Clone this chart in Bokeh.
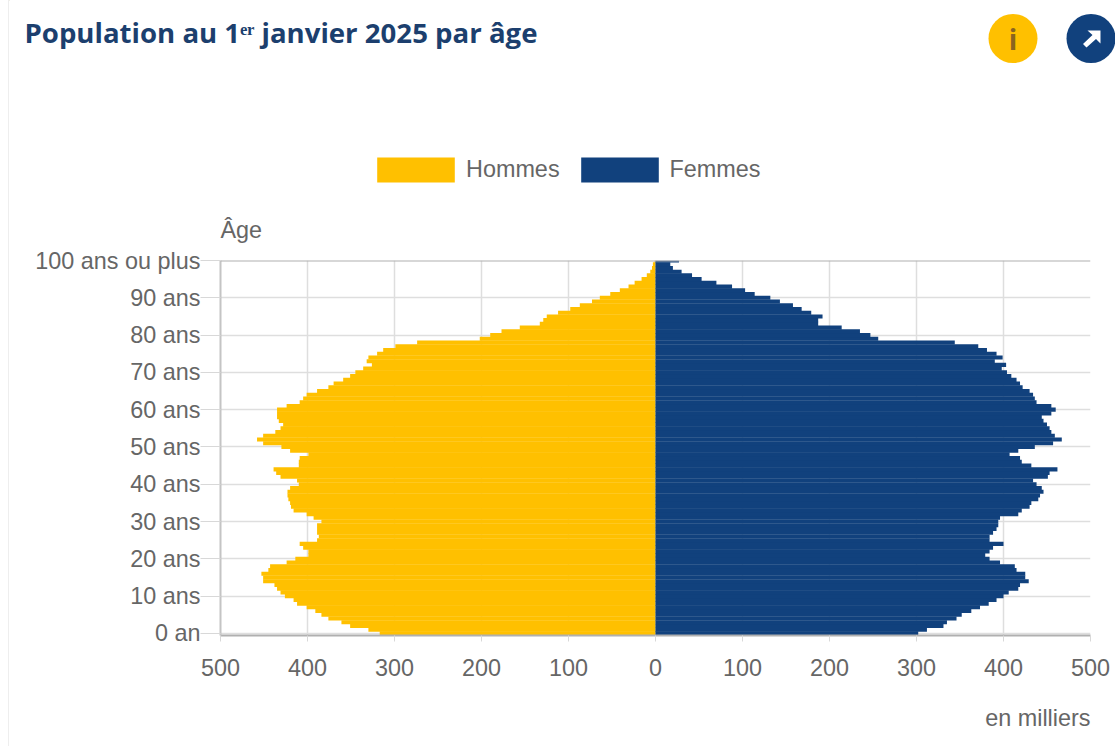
from bokeh.core.properties import value
from bokeh.layouts import column
from bokeh.plotting import figure
from bokeh.models import ColumnDataSource, Legend, LegendItem, Span, FixedTicker
from bokeh.embed import file_html
from bokeh.resources import INLINE

title_text = "Population au 1ᵉʳ janvier 2025 par âge"
series_names = ["Hommes", "Femmes"]
ages = list(range(0, 101))
hommes = [317,330,351,361,376,384,391,401,412,416,426,431,435,438,451,451,453,445,443,424,
          414,399,399,405,409,389,387,389,389,389,384,393,401,416,419,420,422,423,423,420,
          410,412,431,436,439,410,410,409,399,420,430,451,458,451,437,431,428,433,435,435,
          435,424,409,405,401,389,376,370,359,351,345,336,326,332,330,320,313,299,274,202,
          190,177,156,133,129,125,112,98,87,73,64,52,41,31,24,16,10,6,4,3,1]
femmes = [302,312,331,335,346,352,363,373,383,392,400,406,417,419,429,425,425,415,413,396,
          384,379,384,388,400,384,384,388,392,394,394,396,417,421,430,432,440,442,446,444,
          438,434,451,453,462,432,421,419,407,417,436,457,467,459,455,453,450,446,444,455,
          460,455,438,436,434,430,422,419,415,409,404,398,403,390,399,392,381,371,344,256,
          247,235,214,187,187,192,179,168,158,143,132,114,103,88,70,53,42,30,20,17,27]
age_ticks = [0,10,20,30,40,50,60,70,80,90,100]
age_labels = ["0 an","10 ans","20 ans","30 ans","40 ans","50 ans","60 ans","70 ans","80 ans","90 ans","100 ans ou plus"]
pop_ticks = [-500,-400,-300,-200,-100,0,100,200,300,400,500]
pop_labels = ["500","400","300","200","100","0","100","200","300","400","500"]
unit_label = "en milliers"

YEL = "#ffc000"; NAVY = "#11417d"; GREY = "#666666"; FS = "23.4px"; FONT = "Liberation Sans"
HEAD = 244
FOOT = 700

def strip(y0, y1):
    f = figure(width=1106, height=y1 - y0, output_backend="svg", toolbar_location=None,
               x_range=(9, 1115), y_range=(y1, y0), x_axis_type=None, y_axis_type=None,
               min_border=0, outline_line_color=None, frame_align=False)
    f.grid.visible = False
    return f

# header strip: title, icons, legend and the age caption
hd = strip(0, HEAD)
hd.text(x=[24], y=[31], text=[title_text], text_font=value("Open Sans"), text_font_size="27.6px",
        text_font_style="bold", text_color="#1c3f6e", text_baseline="middle")
hd.text(x=[220], y=[229], text=["Âge"], text_font=value(FONT), text_font_size=FS,
        text_color=GREY, text_baseline="middle")
hd.scatter(x=[1012.5, 1090.5], y=[38, 38], size=49, marker="circle",
           fill_color=[YEL, NAVY], line_color=None)
hd.text(x=[1012.5], y=[38], text=["i"], text_font=value("Open Sans"), text_font_size="28px",
        text_font_style="bold", text_color="#8a6420", text_align="center", text_baseline="middle")
hd.patch(x=[1087, 1100, 1100, 1095.5, 1086, 1082.5, 1092],
         y=[30, 30, 43, 38.5, 47, 43.5, 34.5], fill_color="white", line_color=None)
# legend keys: bars parked outside the strip's range
k1 = hd.hbar(y=[-500], left=[0], right=[1], height=1, color=YEL, line_width=0)
k2 = hd.hbar(y=[-500], left=[0], right=[1], height=1, color=NAVY, line_width=0)
legend = Legend(items=[LegendItem(label=series_names[0], renderers=[k1]),
                       LegendItem(label=series_names[1], renderers=[k2])],
                orientation="horizontal", location=(358, 59), padding=0, margin=0, spacing=11,
                border_line_color=None, background_fill_alpha=0,
                glyph_width=97, glyph_height=31, label_standoff=2, label_height=31,
                label_text_font=FONT, label_text_font_size=FS, label_text_color=GREY)
hd.add_layout(legend, "center")

p = figure(width=1106, height=FOOT - HEAD, output_backend="svg", toolbar_location=None,
           x_range=(-500, 500), y_range=(-0.56, 100), frame_align=False,
           min_border_left=211, min_border_right=25, min_border_top=16, min_border_bottom=65)
p.outline_line_color = None

src = ColumnDataSource(dict(age=ages, h=[-v for v in hommes], f=femmes))
p.hbar(y="age", left="h", right=0, height=1.1, color=YEL, line_width=0, source=src)
p.hbar(y="age", left=0, right="f", height=1.1, color=NAVY, line_width=0, source=src)

for ax in (p.xaxis[0], p.yaxis[0]):
    ax.major_label_text_font = FONT
    ax.major_label_text_font_size = FS
    ax.major_label_text_color = GREY
    ax.minor_tick_line_color = None
    ax.major_tick_in = 0

p.xaxis.ticker = FixedTicker(ticks=pop_ticks)
p.xaxis.major_label_overrides = {t: s for t, s in zip(pop_ticks, pop_labels)}
p.xaxis.axis_line_color = "#b0b0b0"; p.xaxis.axis_line_width = 2
p.xaxis.major_tick_line_color = "#d8d8d8"; p.xaxis.major_tick_out = 6
p.xaxis.major_label_standoff = 17

p.yaxis.ticker = FixedTicker(ticks=age_ticks)
p.yaxis.major_label_overrides = {t: s for t, s in zip(age_ticks, age_labels)}
p.yaxis.axis_line_color = "#c4c4c4"; p.yaxis.axis_line_width = 2
p.yaxis.major_tick_line_color = "#d8d8d8"; p.yaxis.major_tick_out = 20
p.yaxis.major_label_standoff = 0

p.xgrid.ticker = FixedTicker(ticks=pop_ticks)
p.ygrid.ticker = FixedTicker(ticks=age_ticks)
for g in (p.xgrid[0], p.ygrid[0]):
    g.grid_line_color = "#dedede"; g.grid_line_width = 1.5
p.add_layout(Span(location=100, dimension="width", line_color="#b0b0b0", line_width=2))

ft = strip(FOOT, 746)
ft.text(x=[1090], y=[717], text=[unit_label], text_font=value(FONT), text_font_size=FS,
        text_color=GREY, text_align="right", text_baseline="middle")

page = column(hd, p, ft, spacing=0, styles={"margin-left": "8px", "border-left": "1px solid #eeeeee"})
open("out.html", "w").write(file_html(page, INLINE))
